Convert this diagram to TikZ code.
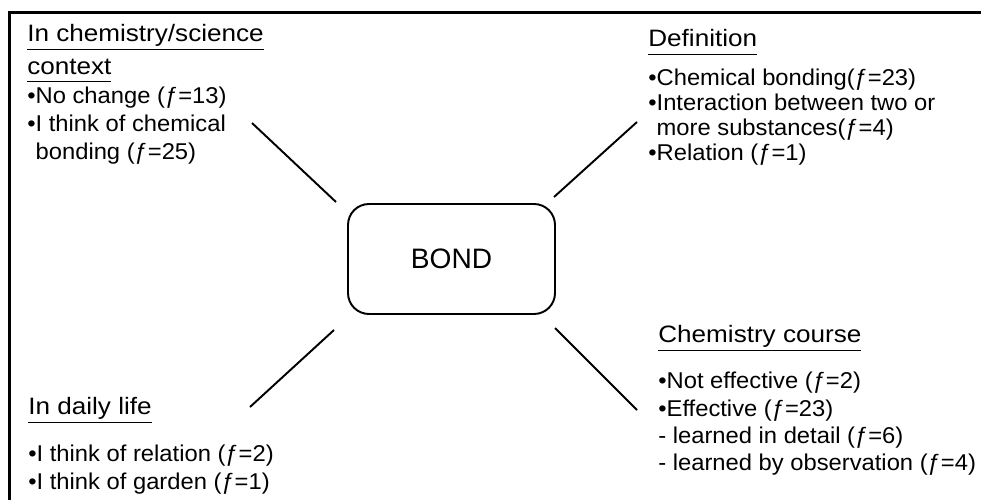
\documentclass[tikz,border=0pt]{standalone}
\usepackage{fontspec}
\setmainfont{Liberation Sans}
\newfontfamily\headfont[FakeStretch=1.1]{Liberation Sans}
\newfontfamily\listfont[FakeStretch=1.04]{Liberation Sans}

\newcommand{\uhead}[1]{\underline{#1\vphantom{y}}}
\newcommand{\fq}[1]{(ƒ=#1)}

\tikzset{
  heading/.style={anchor=north west, inner sep=0pt, align=left,
    font=\headfont\fontsize{13.5}{18.7}\selectfont},
  itemlist/.style={anchor=north west, inner sep=0pt, align=left,
    font=\listfont\fontsize{13}{15.5}\selectfont},
  bondbox/.style={draw, line width=1.1pt, rounded corners=0.42cm,
    minimum width=4.14cm, minimum height=2.2cm,
    font=\fontsize{16}{18}\selectfont},
  spoke/.style={line width=1.1pt},
}

\begin{document}
\begin{tikzpicture}[x=0.2mm, y=-0.2mm]
    \useasboundingbox (0,0) rectangle (981,500);
    \draw[line width=1.7pt] (9.5,500) -- (9.5,12.5) -- (981,12.5);

    \node[bondbox] (bond) at (451.5,259) {BOND};

    % the four groups
    \node[heading] (scihead) at (27,24) {\uhead{In chemistry/science}\\\uhead{context}};
    \node[itemlist, font=\listfont\fontsize{13}{15.8}\selectfont] (scilist) at (27,87)
        {•No change \fq{13}\\•I think of chemical\\\phantom{•}bonding \fq{25}};

    \node[heading] (defhead) at (648,29) {\uhead{Definition}};
    \node[itemlist, font=\listfont\fontsize{13}{14.2}\selectfont] (deflist) at (648,69)
        {•Chemical bonding\fq{23}\\•Interaction between two or\\\phantom{•}more substances\fq{4}\\•Relation \fq{1}};

    \node[heading] (coursehead) at (658,325) {\uhead{Chemistry course}};
    \node[itemlist] (courselist) at (658,372)
        {•Not effective \fq{2}\\•Effective \fq{23}\\- learned in detail \fq{6}\\- learned by observation \fq{4}};

    \node[heading] (dailyhead) at (28,397) {\uhead{In daily life}};
    \node[itemlist] (dailylist) at (28,445)
        {•I think of relation \fq{2}\\•I think of garden \fq{1}};

    % spokes
    \coordinate (tlA) at (336,202);
    \coordinate (tlB) at (252,123);
    \coordinate (trA) at (554,197);
    \coordinate (trB) at (637,122);
    \coordinate (brA) at (555,328);
    \coordinate (brB) at (637,410);
    \coordinate (blA) at (334,330);
    \coordinate (blB) at (250,407);
    \draw[spoke] (tlA) -- (tlB);
    \draw[spoke] (trA) -- (trB);
    \draw[spoke] (brA) -- (brB);
    \draw[spoke] (blA) -- (blB);
\end{tikzpicture}
\end{document}
